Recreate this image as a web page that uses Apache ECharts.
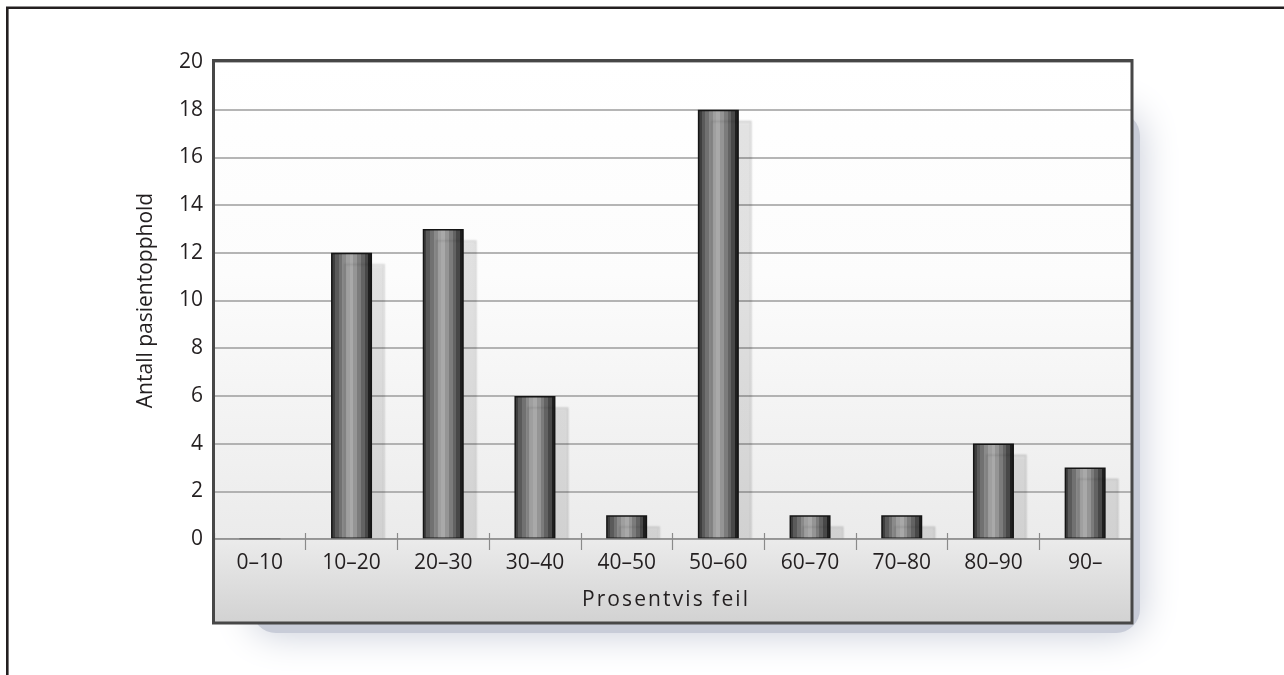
<!DOCTYPE html>
<html><head><meta charset="utf-8">
<script src="https://cdn.jsdelivr.net/npm/echarts@6/dist/echarts.min.js"></script>
<style>html,body{margin:0;padding:0;background:#fff}#c{width:1284px;height:675px}</style>
</head><body><div id="c"></div>
<script>
const categories = ['0–10','10–20','20–30','30–40','40–50','50–60','60–70','70–80','80–90','90–'];
const counts = [0, 12, 13, 6, 1, 18, 1, 1, 4, 3];
const yTicks = { min: 0, max: 20, interval: 2 };
const xName = 'Prosentvis feil';
const yName = 'Antall pasientopphold';

const FONT = '"Open Sans", "Noto Sans", sans-serif';
const spaced = xName.split('').join('\u200A');

const G = { left: 214, right: 153, top: 62, bottom: 136 };
const W = 1284, H = 675;
const fx0 = 213.5, fy0 = 60.5, fx1 = 1132, fy1 = 623;
const axisY = H - G.bottom;

const barGrad = new echarts.graphic.LinearGradient(0, 0, 1, 0, (() => {
  const cols = ['#3e3e3e','#5a5a5a','#717171','#8a8a8a','#9f9f9f','#a9a9a9','#959595','#7c7c7c','#636363','#484848','#1f1f1f'];
  const s = [];
  cols.forEach((c, i) => {
    s.push({ offset: i / cols.length, color: c });
    s.push({ offset: (i + 1) / cols.length, color: c });
  });
  return s;
})());

const chart = echarts.init(document.getElementById('c'), null, { renderer: 'canvas' });
chart.setOption({
  animation: false,
  backgroundColor: '#ffffff',
  graphic: [
    { type: 'polyline', z: -10, shape: { points: [[7.3, H], [7.3, 7.8], [W, 7.8]] },
      style: { stroke: '#231f20', lineWidth: 2.6, fill: null } },
    { type: 'rect', z: -10, shape: { x: 252, y: 112, width: fx1 - 252 + 8, height: fy1 - 112 + 10, r: 24 },
      style: { fill: '#c8ccd8', shadowBlur: 38, shadowColor: 'rgba(196,201,214,1)' } },
    { type: 'rect', z: -9, shape: { x: fx0, y: fy0, width: fx1 - fx0, height: axisY - fy0 },
      style: { fill: new echarts.graphic.LinearGradient(0, 0, 0, 1, [
        { offset: 0, color: '#ffffff' }, { offset: 0.45, color: '#fcfcfc' }, { offset: 1, color: '#ebebeb' }]) } },
    { type: 'rect', z: 5, shape: { x: fx0, y: axisY + 0.5, width: fx1 - fx0, height: fy1 - axisY - 0.5 },
      style: { fill: new echarts.graphic.LinearGradient(0, 0, 0, 1, [
        { offset: 0, color: '#ebebeb' }, { offset: 1, color: '#d2d2d2' }]) } },
    { type: 'rect', z: 20, shape: { x: fx0, y: fy0, width: fx1 - fx0, height: fy1 - fy0 },
      style: { fill: null, stroke: '#474747', lineWidth: 3 } }
  ],
  grid: { left: G.left, right: G.right, top: G.top, bottom: G.bottom, containLabel: false },
  xAxis: [{
    type: 'category', data: categories, z: 10,
    axisLine: { show: true, lineStyle: { color: '#8a8a8a', width: 1.5 } },
    axisTick: { show: true, length: 11, lineStyle: { color: '#8a8a8a', width: 1.2 } },
    axisLabel: { color: '#231f20', fontSize: 21, fontFamily: FONT, margin: 14 },
    name: spaced, nameLocation: 'middle', nameGap: 51,
    nameTextStyle: { color: '#231f20', fontSize: 21, fontFamily: FONT, padding: [0, 15, 0, 0] }
  }, {
    type: 'category', data: categories, position: 'bottom', z: 10,
    axisLine: { show: false },
    axisTick: { show: true, inside: true, length: 6, lineStyle: { color: '#8a8a8a', width: 1.2 } },
    axisLabel: { show: false }
  }],
  yAxis: {
    type: 'value', min: yTicks.min, max: yTicks.max, interval: yTicks.interval,
    axisLine: { show: false }, axisTick: { show: false },
    splitLine: { show: true, lineStyle: { color: '#9d9d9d', width: 1.5 } },
    axisLabel: { color: '#231f20', fontSize: 21, fontFamily: FONT, margin: 11 },
    name: yName, nameLocation: 'middle', nameGap: 57,
    nameTextStyle: { color: '#231f20', fontSize: 21, fontFamily: FONT }
  },
  series: [{
    type: 'bar', data: counts, barWidth: 41, xAxisIndex: 0,
    itemStyle: { color: barGrad, borderColor: '#151515', borderWidth: 1.5,
      shadowColor: 'rgba(0,0,0,0.11)', shadowOffsetX: 13, shadowOffsetY: 11, shadowBlur: 2 },
    emphasis: { disabled: true }
  }]
});
</script></body></html>
